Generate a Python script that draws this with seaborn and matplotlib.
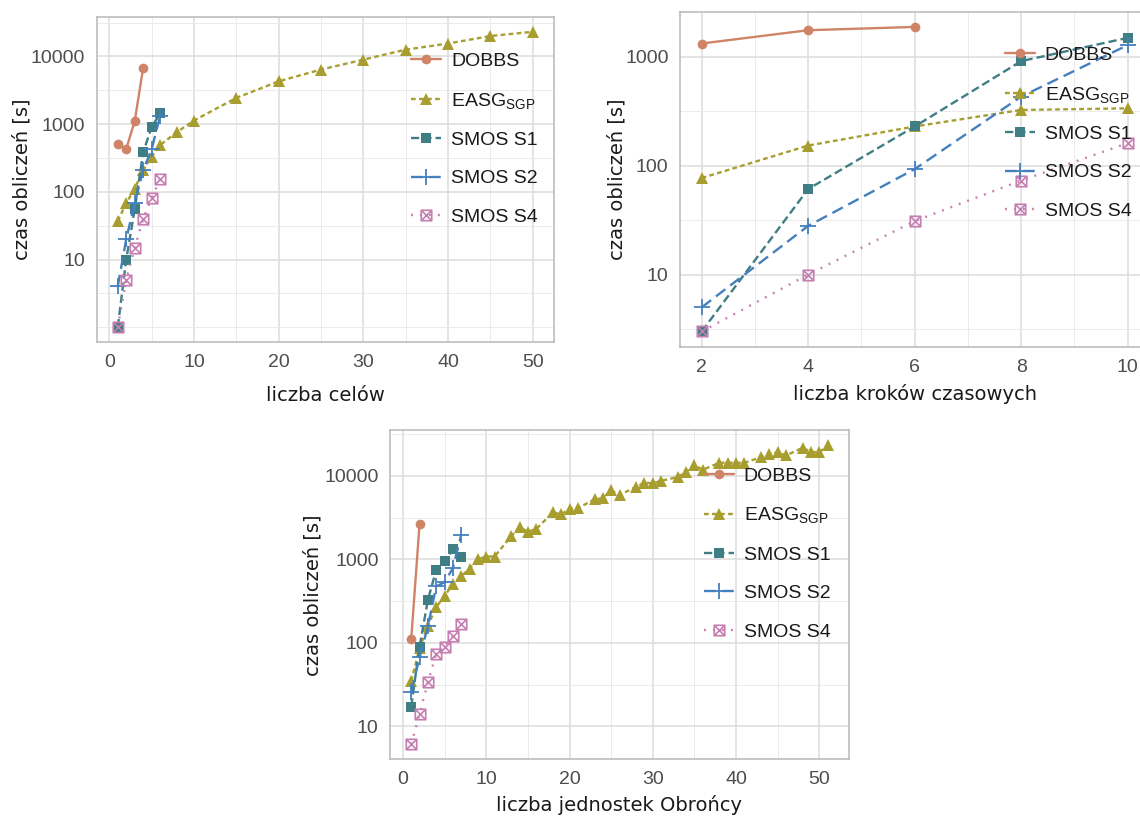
import matplotlib
matplotlib.use("Agg")
import matplotlib.pyplot as plt
from matplotlib.path import Path
from matplotlib.ticker import FixedLocator, NullFormatter
import numpy as np
import pandas as pd
import seaborn as sns

# ---------------- data ----------------
series_names = ["DOBBS", "EASG$_\\mathregular{SGP}$", "SMOS S1", "SMOS S2", "SMOS S4"]

# panel 1: liczba celów
cele_dobbs_x = [1, 2, 3, 4]
cele_dobbs_y = [500, 430, 1100, 6800]
cele_easg_x = [1, 2, 3, 4, 5, 6, 8, 10, 15, 20, 25, 30, 35, 40, 45, 50]
cele_easg_y = [37, 68, 111, 209, 330, 489, 764, 1130, 2440, 4280, 6400, 8950, 12600, 15500, 20000, 23100]
cele_s1_x = [1, 2, 3, 4, 5, 6]
cele_s1_y = [1, 10, 55, 383, 903, 1440]
cele_s2_x = [1, 2, 3, 4, 5, 6]
cele_s2_y = [4, 20, 68, 209, 424, 1320]
cele_s4_x = [1, 2, 3, 4, 5, 6]
cele_s4_y = [1, 5, 15, 40, 81, 153]

# panel 2: liczba kroków czasowych
kroki_dobbs_x = [2, 4, 6]
kroki_dobbs_y = [1324, 1754, 1880]
kroki_easg_x = [2, 4, 6, 8, 10]
kroki_easg_y = [77, 153, 229, 325, 336]
kroki_s1_x = [2, 4, 6, 8, 10]
kroki_s1_y = [3, 61, 229, 912, 1493]
kroki_s2_x = [2, 4, 6, 8, 10]
kroki_s2_y = [5, 28, 93, 431, 1280]
kroki_s4_x = [2, 4, 6, 8, 10]
kroki_s4_y = [3, 10, 31, 73, 161]

# panel 3: liczba jednostek Obrońcy
jedn_dobbs_x = [1, 2]
jedn_dobbs_y = [111, 2640]
jedn_easg_x = [1, 2, 3, 4, 5, 6, 7, 8, 9, 10, 11, 13, 14, 15, 16, 18, 19, 20, 21,
               23, 24, 25, 26, 28, 29, 30, 31, 33, 34, 35, 36, 38, 39, 40, 41,
               43, 44, 45, 46, 48, 49, 50, 51]
jedn_easg_y = [35, 86, 161, 268, 362, 509, 629, 769, 1000, 1080, 1080, 1880, 2430, 2130, 2300,
               3650, 3440, 4030, 4100, 5210, 5400, 6670, 5850, 7400, 8250, 8100, 8700,
               9640, 11200, 13400, 11800, 14300, 14300, 14300, 14300,
               16700, 18000, 19200, 17500, 21600, 19200, 19200, 23100]
jedn_s1_x = [1, 2, 3, 4, 5, 6, 7]
jedn_s1_y = [17.3, 90, 327, 748, 942, 1312, 1062]
jedn_s2_x = [1, 2, 3, 4, 5, 6, 7]
jedn_s2_y = [26, 67, 157, 473, 533, 783, 1963]
jedn_s4_x = [1, 2, 3, 4, 5, 6, 7]
jedn_s4_y = [6.1, 14.1, 33.8, 74, 89, 120, 169]

y_major = [10, 100, 1000, 10000]
y_major_labels = ["10", "100", "1000", "10000"]
y_label = "czas obliczeń [s]"

# ---------------- styles ----------------
sq_x = Path([(-1, -1), (1, -1), (1, 1), (-1, 1), (-1, -1), (-1, -1), (1, 1), (-1, 1), (1, -1)],
            [Path.MOVETO, Path.LINETO, Path.LINETO, Path.LINETO, Path.CLOSEPOLY,
             Path.MOVETO, Path.LINETO, Path.MOVETO, Path.LINETO])

styles = {
    "DOBBS": dict(color="#CF8468", marker="o", markersize=7.0, linestyle="-", mfc="#CF8468", mew=0),
    "EASG$_\\mathregular{SGP}$": dict(color="#A89E2F", marker="^", markersize=9.0,
                                       linestyle=(0, (2.0, 1.4)), mfc="#A89E2F", mew=0),
    "SMOS S1": dict(color="#3F7E84", marker="s", markersize=7.0, linestyle=(0, (3.5, 1.7)),
                    mfc="#3F7E84", mew=0),
    "SMOS S2": dict(color="#4480BD", marker="+", markersize=12, linestyle=(0, (5.0, 2.6)),
                    mew=1.3),
    "SMOS S4": dict(color="#C67DB0", marker=sq_x, markersize=7.5, linestyle=(0, (0.8, 3.0)),
                    mfc="none", mew=1.2),
}

sns.set_style("white")
plt.rcParams["font.family"] = ["Liberation Sans", "DejaVu Sans"]
plt.rcParams["mathtext.default"] = "regular"

W, H = 1140, 816
fig = plt.figure(figsize=(W / 100, H / 100), dpi=100)
fig.patch.set_facecolor("white")


def px_axes(l, r, t, b):
    return fig.add_axes([l / W, (H - b) / H, (r - l) / W, (b - t) / H])


def draw(ax, data, xticks, xminor, xlabel, leg_anchor, ylab_x, xlab_y):
    all_x = np.concatenate([np.asarray(d[0], float) for d in data])
    all_y = np.concatenate([np.asarray(d[1], float) for d in data])
    for name, (xs, ys) in zip(series_names, data):
        st = styles[name]
        df = pd.DataFrame({"x": xs, "y": ys})
        sns.lineplot(data=df, x="x", y="y", ax=ax, color=st["color"], marker=st["marker"],
                     markersize=st["markersize"], linestyle=st["linestyle"],
                     markerfacecolor=st.get("mfc", st["color"]), markeredgecolor=st["color"],
                     markeredgewidth=st["mew"], linewidth=1.7, label=name,
                     errorbar=None, estimator=None, sort=False)
    ax.set_yscale("log")
    ax.set_xticks(xticks)
    ax.set_xticklabels([str(v) for v in xticks])
    ax.xaxis.set_minor_locator(FixedLocator(xminor))
    ax.set_yticks(y_major)
    ax.set_yticklabels(y_major_labels)
    ax.yaxis.set_minor_locator(FixedLocator([1] + [10 ** (k + 0.5) for k in range(-1, 6)]))
    ax.yaxis.set_minor_formatter(NullFormatter())
    lx0, lx1 = all_x.min(), all_x.max()
    dx = (lx1 - lx0) * 0.05
    ax.set_xlim(lx0 - dx, lx1 + dx)
    ly0, ly1 = np.log10(all_y.min()), np.log10(all_y.max())
    dy = (ly1 - ly0) * 0.05
    ax.set_ylim(10 ** (ly0 - dy), 10 ** (ly1 + dy))
    ax.grid(True, which="major", color="#dcdcdc", linewidth=1.1)
    ax.grid(True, which="minor", color="#ebebeb", linewidth=0.7)
    ax.set_axisbelow(True)
    for sp in ax.spines.values():
        sp.set_color("#b8b8b8")
        sp.set_linewidth(1.1)
    ax.tick_params(which="major", length=5, width=1.0, color="#b8b8b8", pad=3.5,
                   labelsize=14, labelcolor="#4d4d4d")
    ax.tick_params(which="minor", length=0)
    ax.set_xlabel(xlabel, fontsize=14, family="DejaVu Sans", color="#1a1a1a")
    ax.set_ylabel(y_label, fontsize=14, family="DejaVu Sans", color="#1a1a1a")
    ax.yaxis.set_label_coords(ylab_x, 0.5)
    ax.xaxis.set_label_coords(0.5, xlab_y)
    h, l = ax.get_legend_handles_labels()
    ax.legend(h, l, loc="upper left", bbox_to_anchor=leg_anchor, frameon=False,
              fontsize=14, handlelength=1.55, handletextpad=0.5, labelspacing=1.07,
              borderpad=0, borderaxespad=0, labelcolor="#1a1a1a")


ax1 = px_axes(97, 553.6, 17, 342)
draw(ax1,
     [(cele_dobbs_x, cele_dobbs_y), (cele_easg_x, cele_easg_y), (cele_s1_x, cele_s1_y),
      (cele_s2_x, cele_s2_y), (cele_s4_x, cele_s4_y)],
     [0, 10, 20, 30, 40, 50], [5, 15, 25, 35, 45], "liczba celów",
     (0.688, 0.892), -0.143, -0.135)

ax2 = px_axes(680.4, 1149, 11.7, 346.7)
draw(ax2,
     [(kroki_dobbs_x, kroki_dobbs_y), (kroki_easg_x, kroki_easg_y), (kroki_s1_x, kroki_s1_y),
      (kroki_s2_x, kroki_s2_y), (kroki_s4_x, kroki_s4_y)],
     [2, 4, 6, 8, 10], [3, 5, 7, 9], "liczba kroków czasowych",
     (0.6927, 0.897), -0.114, -0.11)

ax3 = px_axes(390.4, 848.6, 430.4, 759.3)
draw(ax3,
     [(jedn_dobbs_x, jedn_dobbs_y), (jedn_easg_x, jedn_easg_y), (jedn_s1_x, jedn_s1_y),
      (jedn_s2_x, jedn_s2_y), (jedn_s4_x, jedn_s4_y)],
     [0, 10, 20, 30, 40, 50], [5, 15, 25, 35, 45], "liczba jednostek Obrońcy",
     (0.684, 0.889), -0.149, -0.109)

fig.savefig("out.png", dpi=100, facecolor="white")
